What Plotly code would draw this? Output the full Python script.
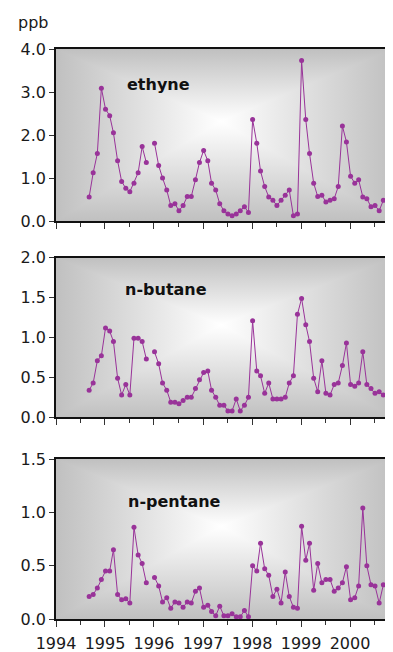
import base64
import plotly.graph_objects as go

# ---------------- data ----------------
start_year, start_month = 1994, 9
n_points = 76
dates = [f"{start_year + (start_month - 1 + i) // 12}-{(start_month - 1 + i) % 12 + 1:02d}-05" for i in range(n_points)]

ethyne = [0.56, 1.12, 1.57, 3.09, 2.60, 2.45, 2.05, 1.40, 0.92, 0.76, 0.68, 0.88, 1.12, 1.73, 1.36,
          None,
          1.81, 1.29, 1.00, 0.72, 0.36, 0.40, 0.24, 0.36, 0.57, 0.57, 0.96, 1.36, 1.64, 1.40, 0.88, 0.72,
          0.40, 0.24, 0.16, 0.12, 0.16, 0.24, 0.33, 0.20,
          2.36, 1.81, 1.16, 0.80, 0.56, 0.48, 0.36, 0.48, 0.60, 0.72, 0.12, 0.16,
          3.73, 2.36, 1.57, 0.88, 0.57, 0.60, 0.44, 0.48, 0.52, 0.80, 2.21, 1.84, 1.04, 0.88, 0.96, 0.56,
          0.52, 0.33, 0.36, 0.24, 0.48,
          None, 1.29, 2.8]

n_butane = [0.34, 0.43, 0.71, 0.77, 1.12, 1.08, 0.95, 0.49, 0.28, 0.41, 0.28, 0.99, 0.99, 0.95, 0.73,
            None,
            0.82, 0.67, 0.43, 0.34, 0.19, 0.19, 0.17, 0.21, 0.25, 0.25, 0.36, 0.47, 0.56, 0.58, 0.34, 0.25,
            0.15, 0.15, 0.08, 0.08, 0.23, 0.08, 0.15, 0.25,
            1.21, 0.58, 0.52, 0.30, 0.43, 0.23, 0.23, 0.23, 0.25, 0.43, 0.52, 1.29,
            1.49, 1.16, 0.95, 0.49, 0.32, 0.71, 0.30, 0.28, 0.41, 0.43, 0.65, 0.93, 0.41, 0.39, 0.43, 0.82,
            0.41, 0.36, 0.30, 0.32, 0.28,
            None, 0.33, 0.8]

n_pentane = [0.21, 0.23, 0.29, 0.37, 0.45, 0.45, 0.65, 0.23, 0.18, 0.19, 0.15, 0.86, 0.60, 0.52, 0.34,
             None,
             0.39, 0.31, 0.16, 0.20, 0.10, 0.16, 0.15, 0.11, 0.16, 0.15, 0.26, 0.29, 0.11, 0.13, 0.07, 0.03,
             0.12, 0.03, 0.03, 0.05, 0.02, 0.02, 0.08, 0.02,
             0.50, 0.45, 0.71, 0.47, 0.41, 0.21, 0.28, 0.15, 0.44, 0.21, 0.11, 0.10,
             0.87, 0.55, 0.71, 0.27, 0.52, 0.34, 0.37, 0.37, 0.26, 0.29, 0.34, 0.49, 0.18, 0.20, 0.31, 1.04,
             0.50, 0.32, 0.31, 0.15, 0.32,
             None, 0.16, None]

series_names = ["ethyne", "n-butane", "n-pentane"]
series_values = [ethyne, n_butane, n_pentane]
y_ranges = [[0, 4.0], [0, 2.0], [0, 1.5]]
y_dticks = [1.0, 0.5, 0.5]
x_range = ["1994-01-01", "2000-11-16"]
unit_label = "ppb"

# ---------------- layout geometry (window pixels) ----------------
OFF = 8                      # default page body margin
WIN_W, WIN_H = 393, 652
W, H = WIN_W - OFF, WIN_H - OFF
PLOT_L, PLOT_R, PLOT_T, PLOT_B = 56, 393, 49, 619   # plot block in window px
ML, MR, MT, MB = PLOT_L - OFF, WIN_W - PLOT_R, PLOT_T - OFF, WIN_H - PLOT_B
PW = W - ML - MR
PH = H - MT - MB


def xp(px):
    return (px - PLOT_L) / PW


def yp(py):
    return (PLOT_B - py) / PH


def clamp(v):
    return min(1.0, max(0.0, v))


panel_px = [(49, 221), (257.7, 417.3), (459, 619)]  # top, bottom in window px
label_px = [(158, 85), (166, 289), (174, 501)]

# gradient background (rectangular "from centre" fill)
svg = """<svg xmlns='http://www.w3.org/2000/svg' width='100' height='100' viewBox='0 0 100 100' preserveAspectRatio='none'>
<defs>
<linearGradient id='h' x1='0' y1='0' x2='1' y2='0'>
<stop offset='0' stop-color='#c0c0c0'/><stop offset='0.49' stop-color='#ffffff'/><stop offset='1' stop-color='#c0c0c0'/>
</linearGradient>
<linearGradient id='v' x1='0' y1='0' x2='0' y2='1'>
<stop offset='0' stop-color='#c0c0c0'/><stop offset='0.42' stop-color='#ffffff'/><stop offset='1' stop-color='#c0c0c0'/>
</linearGradient>
</defs>
<rect x='0' y='0' width='100' height='100' fill='url(#h)'/>
<rect x='0' y='0' width='100' height='100' fill='url(#v)' style='mix-blend-mode:darken'/>
</svg>"""
bg_src = "data:image/svg+xml;base64," + base64.b64encode(svg.encode()).decode()

LINE_COLOR = "#993399"
FONT = "DejaVu Sans"

fig = go.Figure()
layout = dict(
    width=W, height=H,
    margin=dict(l=ML, r=MR, t=MT, b=MB, pad=0, autoexpand=False),
    paper_bgcolor="white", plot_bgcolor="rgba(0,0,0,0)",
    showlegend=False,
    font=dict(family=FONT, size=16, color="#1a1a1a"),
    images=[], annotations=[],
)

for k, (name, vals) in enumerate(zip(series_names, series_values)):
    ax = "" if k == 0 else str(k + 1)
    fig.add_trace(go.Scatter(
        x=dates, y=vals, mode="lines+markers", name=name,
        line=dict(color=LINE_COLOR, width=1),
        marker=dict(color=LINE_COLOR, size=5),
        connectgaps=False, cliponaxis=False,
        xaxis="x" + ax, yaxis="y" + ax,
    ))
    top, bot = panel_px[k]
    y0, y1 = clamp(yp(bot)), clamp(yp(top))
    layout["xaxis" + ax] = dict(
        type="date", range=x_range, domain=[0, 1], anchor="y" + ax,
        showline=True, linecolor="#111", linewidth=1.5, mirror=True,
        showgrid=False, zeroline=False, automargin=False,
        ticks="outside", ticklen=6, tickcolor="#333", tickwidth=1,
        tick0="1994-01-01", dtick="M12", tickformat="%Y",
        showticklabels=(k == 2), ticklabelstandoff=3,
        minor=dict(ticks="outside", ticklen=4, tickcolor="#333", dtick="M6", tick0="1994-01-01"),
        tickfont=dict(family=FONT, size=16, color="#1a1a1a"),
        fixedrange=True,
    )
    layout["yaxis" + ax] = dict(
        range=y_ranges[k], domain=[y0, y1], anchor="x" + ax,
        showline=True, linecolor="#111", linewidth=1.5, mirror=False,
        showgrid=False, zeroline=False, automargin=False,
        ticks="outside", ticklen=5, tickcolor="#333",
        dtick=y_dticks[k], tick0=0, tickformat=".1f",
        tickfont=dict(family=FONT, size=16, color="#1a1a1a"),
        fixedrange=True,
    )
    layout["images"].append(dict(
        source=bg_src, xref="paper", yref="paper",
        x=0, y=y1, sizex=1, sizey=y1 - y0,
        xanchor="left", yanchor="top", sizing="stretch", layer="below",
    ))
    lx, ly = label_px[k]
    layout["annotations"].append(dict(
        text=f"<b>{name}</b>", xref="paper", yref="paper", x=xp(lx), y=yp(ly),
        xanchor="center", yanchor="middle", showarrow=False,
        font=dict(family=FONT, size=16, color="#111"),
    ))

layout["annotations"].append(dict(
    text=unit_label, xref="paper", yref="paper", x=xp(33), y=yp(22),
    xanchor="center", yanchor="middle", showarrow=False,
    font=dict(family=FONT, size=16, color="#1a1a1a"),
))

fig.update_layout(**layout)
fig.write_html("out.html")
